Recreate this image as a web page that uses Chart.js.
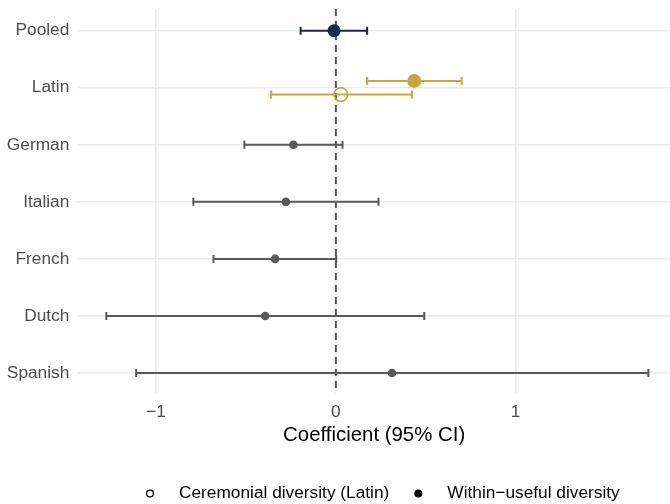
<!DOCTYPE html>
<html>
<head>
<meta charset="utf-8">
<script src="https://cdn.jsdelivr.net/npm/chart.js@4/dist/chart.umd.min.js"></script>
<style>
  html, body { margin: 0; padding: 0; background: #ffffff; }
  #wrap { width: 670px; height: 504px; }
</style>
</head>
<body>
<div id="wrap"><canvas id="c" width="670" height="504"></canvas></div>
<script>
// ---------------- data ----------------
const categories = ['Pooled', 'Latin', 'German', 'Italian', 'French', 'Dutch', 'Spanish'];
// Within-useful diversity: estimate and 95% CI
const usefulEst   = [-0.010, 0.436, -0.236, -0.278, -0.338, -0.393, 0.312];
const usefulLower = [-0.196, 0.174, -0.509, -0.793, -0.681, -1.277, -1.111];
const usefulUpper = [ 0.174, 0.700,  0.037,  0.237,  0.002,  0.492,  1.739];
// Ceremonial diversity (Latin only)
const ceremonialCategory = 'Latin';
const ceremonialEst   = 0.028;
const ceremonialLower = -0.360;
const ceremonialUpper = 0.423;
// axis ticks
const xTicks = [-1, 0, 1];
const xTitle = 'Coefficient (95% CI)';
const legendLabels = ['Ceremonial diversity (Latin)', 'Within\u2212useful diversity'];

// ---------------- style ----------------
const FONT = "'Liberation Sans', Arial, Helvetica, sans-serif";
const colorOf = c => c === 'Pooled' ? '#1d2a4b' : (c === 'Latin' ? '#c9a540' : '#595959');
const radiusOf = c => c === 'Pooled' ? 6.5 : (c === 'Latin' ? 7 : 4.3);
const dodge = 0.12;
Chart.defaults.font.family = FONT;

const latinIdx = categories.indexOf(ceremonialCategory);

const usefulPoints = categories.map((c, i) => ({
  x: usefulEst[i],
  y: i + (c === ceremonialCategory ? -dodge : 0),
  lo: usefulLower[i], hi: usefulUpper[i], cat: c
}));
const ceremonialPoints = [{
  x: ceremonialEst, y: latinIdx + dodge,
  lo: ceremonialLower, hi: ceremonialUpper, cat: ceremonialCategory
}];

// plugin: dashed zero line + error bars + legend
const extras = {
  id: 'extras',
  beforeDatasetsDraw(chart) {
    const {ctx, chartArea, scales} = chart;
    const xs = scales.x, ys = scales.y;
    ctx.save();
    // dashed zero line
    const x0 = xs.getPixelForValue(0);
    ctx.strokeStyle = '#555555';
    ctx.lineWidth = 2;
    ctx.setLineDash([7, 5]);
    ctx.beginPath();
    ctx.moveTo(x0, chartArea.top);
    ctx.lineTo(x0, chartArea.bottom);
    ctx.stroke();
    ctx.setLineDash([]);
    // error bars
    chart.data.datasets.forEach(ds => {
      ds.data.forEach(p => {
        const y = ys.getPixelForValue(p.y);
        const xl = xs.getPixelForValue(p.lo);
        const xh = xs.getPixelForValue(p.hi);
        ctx.strokeStyle = colorOf(p.cat);
        ctx.lineWidth = 2;
        ctx.beginPath();
        ctx.moveTo(xl, y); ctx.lineTo(xh, y);
        ctx.moveTo(xl, y - 4); ctx.lineTo(xl, y + 4);
        ctx.moveTo(xh, y - 4); ctx.lineTo(xh, y + 4);
        ctx.stroke();
      });
    });
    ctx.restore();
  },
  afterDraw(chart) {
    const {ctx} = chart;
    ctx.save();
    ctx.font = '17.3px ' + FONT;
    ctx.fillStyle = '#000000';
    ctx.textBaseline = 'middle';
    ctx.textAlign = 'left';
    const y = 493.5;
    let x = 150;
    // hollow symbol
    ctx.strokeStyle = '#000000';
    ctx.lineWidth = 1.3;
    ctx.beginPath(); ctx.arc(x, y, 3.4, 0, Math.PI * 2); ctx.stroke();
    ctx.fillText(legendLabels[0], x + 29, y);
    x = x + 29 + ctx.measureText(legendLabels[0]).width + 29;
    ctx.beginPath(); ctx.arc(x, y, 4, 0, Math.PI * 2); ctx.fill();
    ctx.fillText(legendLabels[1], x + 29, y);
    ctx.restore();
  }
};

new Chart(document.getElementById('c'), {
  type: 'scatter',
  data: {
    datasets: [
      {
        label: legendLabels[1],
        data: usefulPoints,
        pointStyle: 'circle',
        pointRadius: usefulPoints.map(p => radiusOf(p.cat)),
        pointHoverRadius: usefulPoints.map(p => radiusOf(p.cat)),
        pointBackgroundColor: usefulPoints.map(p => colorOf(p.cat)),
        pointBorderColor: usefulPoints.map(p => colorOf(p.cat)),
        pointBorderWidth: 0
      },
      {
        label: legendLabels[0],
        data: ceremonialPoints,
        pointStyle: 'circle',
        pointRadius: 6.8,
        pointHoverRadius: 6.8,
        pointBackgroundColor: 'rgba(0,0,0,0)',
        pointBorderColor: colorOf(ceremonialCategory),
        pointBorderWidth: 1.6
      }
    ]
  },
  options: {
    responsive: false,
    animation: false,
    devicePixelRatio: 1,
    layout: { autoPadding: false, padding: { top: 9, bottom: 56.3, left: 0, right: 0 } },
    plugins: { legend: { display: false }, tooltip: { enabled: false } },
    scales: {
      x: {
        type: 'linear',
        min: -1.433,
        max: 1.859,
        afterBuildTicks: s => { s.ticks = xTicks.map(v => ({ value: v })); },
        afterFit: s => { s.height = 54.7; },
        border: { display: false },
        grid: { color: '#ebebeb', lineWidth: 1.5, drawTicks: false },
        ticks: {
          padding: 10.5,
          color: '#4d4d4d',
          font: { size: 17.3, lineHeight: 1 },
          callback: v => (v < 0 ? '\u2212' + Math.abs(v) : String(v))
        },
        title: {
          display: true,
          text: xTitle,
          color: '#000000',
          font: { size: 20.4 },
          padding: { top: 0, bottom: 0 }
        }
      },
      y: {
        type: 'linear',
        reverse: true,
        min: -0.38,
        max: 6.35,
        afterBuildTicks: s => { s.ticks = categories.map((c, i) => ({ value: i })); },
        afterFit: s => { s.width = 78.3; },
        border: { display: false },
        grid: { color: '#ebebeb', lineWidth: 1.5, drawTicks: true, tickLength: 9, tickColor: 'rgba(0,0,0,0)' },
        ticks: {
          padding: 0,
          color: '#4d4d4d',
          font: { size: 17.3, lineHeight: 1 },
          callback: v => categories[v] !== undefined ? categories[v] : ''
        }
      }
    }
  },
  plugins: [extras]
});
</script>
</body>
</html>
